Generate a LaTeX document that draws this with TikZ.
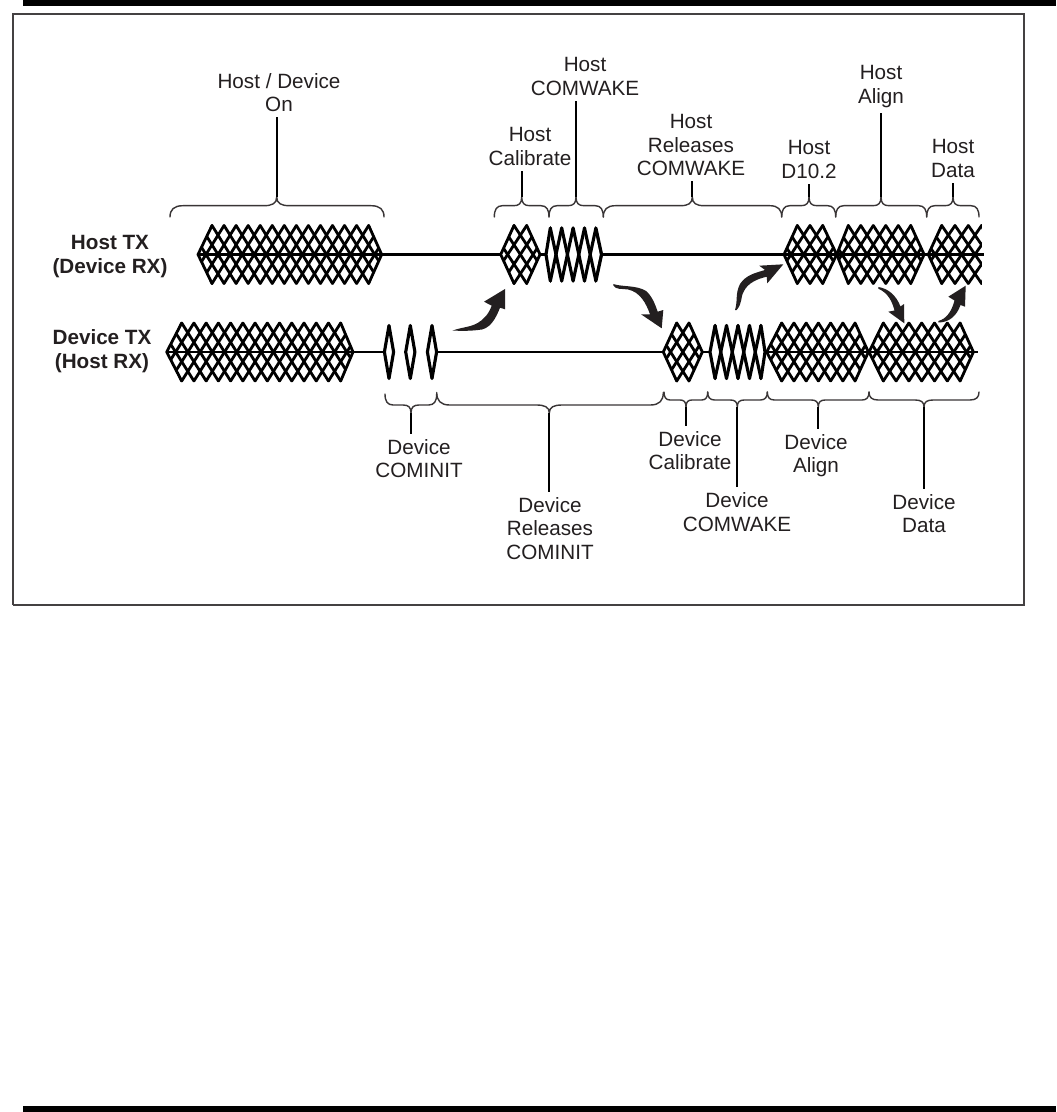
\documentclass[tikz,border=0pt]{standalone}
\usepackage{fontspec}
\setmainfont{Liberation Sans}
\definecolor{ink}{HTML}{231F20}
\tikzset{
  x=0.75pt,y=-0.75pt,
  lbl/.style={font=\fontsize{15.5}{17.6}\selectfont,align=center,inner sep=4pt,text=ink},
  sidelbl/.style={font=\fontsize{15.5}{17.6}\selectfont\bfseries,align=center,inner sep=0pt,text=ink},
  blkline/.style={line width=2.1pt,black,line cap=round,line join=round},
  nblkline/.style={line width=2.35pt,black,line cap=round,line join=round},
  wireh/.style={line width=2.5pt,black},
  wired/.style={line width=2.2pt,black},
  bracel/.style={line width=1.05pt,ink!90,line join=round,line cap=round},
  leader/.style={line width=1.3pt,black},
  bar/.style={fill=black,draw=none},
  fr/.style={line width=1pt,ink!85},
  curvearrow/.style={fill=ink,draw=none}
}
% style, first peak, spacing, count, centre y, half height, lattice step, left tip dist, right tip dist
\newcommand{\blk}[9]{%
  \pgfmathsetmacro{\pL}{#2+(#4-1)*#3}%
  \pgfmathsetmacro{\tA}{#2-#8}%
  \pgfmathsetmacro{\tB}{\pL+#9}%
  \pgfmathsetmacro{\yT}{#5-#6}%
  \pgfmathsetmacro{\yB}{#5+#6}%
  \begin{scope}
    \clip (\tA,#5) -- (#2,\yT-3) -- (\pL,\yT-3) -- (\tB,#5) -- (\pL,\yB+3) -- (#2,\yB+3) -- cycle;
    \pgfmathtruncatemacro{\iEnd}{#4+3}%
    \foreach \i in {-4,...,\iEnd}{%
      \pgfmathsetmacro{\xa}{#2+\i*#3}%
      \pgfmathsetmacro{\xb}{#2+(\i+#7)*#3}%
      \draw[#1] (\xa,\yT) -- (\xb,\yB);
      \draw[#1] (\xb,\yT) -- (\xa,\yB);
    }
  \end{scope}
  \draw[#1] (#2,\yT) -- (\tA,#5) -- (#2,\yB);
  \draw[#1] (\pL,\yT) -- (\tB,#5) -- (\pL,\yB);
}
% x1, xm, x2, y horizontal, y ends, y tip, corner
\newcommand{\brc}[7]{%
  \draw[bracel] (#1,#5) .. controls (#1,{#4+(#5-#4)*0.35}) and ({#1+#7*0.3},#4) .. ({#1+#7},#4)
    -- ({#2-#7},#4) .. controls ({#2-#7*0.35},#4) and (#2,{#4+(#6-#4)*0.25}) .. (#2,#6)
    .. controls (#2,{#4+(#6-#4)*0.25}) and ({#2+#7*0.35},#4) .. ({#2+#7},#4)
    -- ({#3-#7},#4) .. controls ({#3-#7*0.3},#4) and (#3,{#4+(#5-#4)*0.35}) .. (#3,#5);
}
\newcommand{\lens}[2]{%
  \draw[nblkline,fill=white] ({#1-4.6},#2) -- (#1,{#2-26.5}) -- ({#1+4.6},#2) -- (#1,{#2+26.5}) -- cycle;
}
\begin{document}
\begin{tikzpicture}
\useasboundingbox (0,0) rectangle (1056,1112);
\fill[white] (0,0) rectangle (1056,1112);
\fill[bar] (23,0) rectangle (1056,6);
\fill[bar] (23,1106) rectangle (1056,1112);
\draw[fr] (13,605) -- (13,14) -- (1024,14) -- (1024,605) -- (13,605);

% wires
\draw[wireh] (198,254.5) -- (501,254.5);
\draw[wireh] (540,254.5) -- (546,254.5);
\draw[wireh] (601.7,254.5) -- (984,254.5);
\draw[wired] (167,352) -- (384,352);
\draw[wired] (430,352) -- (664,352);
\draw[wired] (702,352) -- (710,352);
\draw[wired] (765,352) -- (978,352);

% host blocks
\blk{blkline}{212}{12.05}{14}{254.5}{29}{3}{14}{13}
\blk{blkline}{514}{12.7}{2}{254.5}{29}{3}{13.3}{13.3}
\blk{nblkline}{550.3}{11.4}{5}{254.5}{26.5}{1}{4.3}{5.7}
\blk{blkline}{797.3}{12.7}{3}{254.5}{29}{3}{13.3}{14}
\blk{blkline}{848.3}{12.5}{6}{254.5}{29}{3}{11.6}{13.3}
\begin{scope}
  \clip (920,215) rectangle (981.8,295);
  \blk{blkline}{941.7}{13.3}{4}{254.5}{29}{3}{13.4}{13}
\end{scope}

% device blocks
\blk{blkline}{181.7}{12.23}{14}{352}{29}{3}{15}{12.3}
\lens{389}{352}
\lens{410.3}{352}
\lens{432}{352}
\blk{blkline}{676.7}{12.3}{2}{352}{29}{3}{13.4}{13.3}
\blk{nblkline}{715}{11.5}{5}{352}{26.5}{1}{5}{4}
\blk{blkline}{781.7}{12.23}{7}{352}{29}{3}{15}{13.3}
\blk{blkline}{883.3}{12.8}{7}{352}{29}{3}{14.3}{13.3}

% curved arrows
\fill[curvearrow] (452.7,330.5) .. controls (465,326) and (475,328) .. (485,317)
  .. controls (488,314) and (490,310) .. (491.7,305.7) -- (484,301.7) -- (505,289) -- (505,309.3) -- (500,307.7)
  .. controls (496,318) and (490,330) .. (478,330) .. controls (470,331) and (460,331) .. (452.7,330.5) -- cycle;
\fill[curvearrow] (613.3,284) .. controls (621.7,287) and (636.7,285) .. (646,291)
  .. controls (652,296) and (655,304) .. (657.7,311.7) -- (663.3,310) -- (661.7,328.3) -- (641,314.3) -- (650,314.3)
  .. controls (646,303) and (640,292) .. (628,289.5) .. controls (622,288.5) and (616,290) .. (613.3,285.5) -- cycle;
\fill[curvearrow] (735,310) .. controls (738,300) and (735,294) .. (740,284)
  .. controls (746,275) and (755,273) .. (765,270) -- (759.3,265.7) -- (783.3,264.3) -- (767.3,283.3) -- (766.7,276.7)
  .. controls (757,279) and (748,283) .. (744,291) .. controls (740,298) and (743,302) .. (736.7,310) -- cycle;
\fill[curvearrow] (878.3,287) .. controls (888,288.5) and (896,295) .. (900.5,306.5) -- (904,304) -- (904.3,323.3) -- (888.3,311.7) -- (894.5,310.5)
  .. controls (892,301) and (888,293) .. (878.3,288.7) -- cycle;
\fill[curvearrow] (938.3,321) .. controls (946,319) and (951.5,312) .. (954.5,300.5) -- (948.3,296.7) -- (965.7,285.7) -- (965,306.7) -- (960.5,305)
  .. controls (957,315) and (950,322.5) .. (938.3,322.5) -- cycle;

% top braces
\brc{170}{276.7}{384}{205.7}{217}{197}{13}
\brc{494.3}{521.7}{549}{205.7}{217}{197}{8}
\brc{549}{576}{603.3}{205.7}{217}{197}{8}
\brc{603.3}{692.3}{781.7}{205.7}{217}{197}{12}
\brc{781.7}{809}{835.7}{205.7}{217}{197}{8}
\brc{835.7}{881}{926.7}{205.7}{217}{197}{8}
\brc{926.7}{953}{979}{205.7}{217}{197}{8}

% bottom braces
\brc{385}{411}{436.7}{405}{394}{413}{8}
\brc{436.7}{549.3}{663.3}{405}{392.5}{413}{13}
\brc{664}{686}{707.7}{400}{392}{407}{6}
\brc{707.7}{737.3}{767.3}{400}{392}{407}{7}
\brc{767.3}{818.3}{869}{400}{392}{407}{7}
\brc{869}{924}{979}{400}{392}{407}{9}

% labels
\node[sidelbl] (hosttx) at (110,256.5) {Host TX\\(Device RX)};
\node[sidelbl] (devtx) at (102,351) {Device TX\\(Host RX)};

\node[lbl] (hon) at (279,92.5) {Host / Device\\On};
\node[lbl] (hcal) at (530,146.5) {Host\\Calibrate};
\node[lbl] (hwake) at (585,76.5) {Host\\COMWAKE};
\node[lbl] (hrel) at (691,145) {Host\\Releases\\COMWAKE};
\node[lbl] (hd) at (809,159.5) {Host\\D10.2};
\node[lbl] (hal) at (881,86.5) {Host\\Align};
\node[lbl] (hdat) at (953,158.5) {Host\\Data};
\node[lbl] (dinit) at (419,458.5) {Device\\COMINIT};
\node[lbl] (drel) at (550,528.5) {Device\\Releases\\COMINIT};
\node[lbl] (dcal) at (690,450.5) {Device\\Calibrate};
\node[lbl] (dwake) at (737,512) {Device\\COMWAKE};
\node[lbl] (dal) at (816,455.5) {Device\\Align};
\node[lbl] (ddat) at (924,513.5) {Device\\Data};

% brace tips
\coordinate (honb) at (276.7,197);
\coordinate (hcalb) at (521.7,197);
\coordinate (hwakeb) at (576,197);
\coordinate (hrelb) at (692.3,197);
\coordinate (hdb) at (809,197);
\coordinate (halb) at (881,197);
\coordinate (hdatb) at (953,197);
\coordinate (dinitb) at (411,413);
\coordinate (drelb) at (549.3,413);
\coordinate (dcalb) at (686,407);
\coordinate (dwakeb) at (737.3,407);
\coordinate (dalb) at (818.3,407);
\coordinate (ddatb) at (924,407);

% leaders
\draw[leader] (hon.south -| honb) -- (honb);
\draw[leader] (hcal.south -| hcalb) -- (hcalb);
\draw[leader] (hwake.south -| hwakeb) -- (hwakeb);
\draw[leader] (hrel.south -| hrelb) -- (hrelb);
\draw[leader] (hd.south -| hdb) -- (hdb);
\draw[leader] (hal.south -| halb) -- (halb);
\draw[leader] (hdat.south -| hdatb) -- (hdatb);
\draw[leader] (dinit.north -| dinitb) -- (dinitb);
\draw[leader] (drel.north -| drelb) -- (drelb);
\draw[leader] (dcal.north -| dcalb) -- (dcalb);
\draw[leader] (dwake.north -| dwakeb) -- (dwakeb);
\draw[leader] (dal.north -| dalb) -- (dalb);
\draw[leader] (ddat.north -| ddatb) -- (ddatb);
\end{tikzpicture}
\end{document}
